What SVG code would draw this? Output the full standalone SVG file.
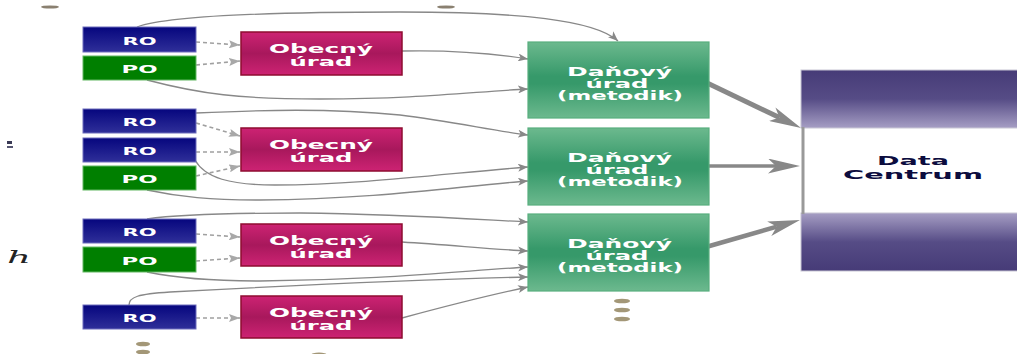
<svg xmlns="http://www.w3.org/2000/svg" width="1017" height="354" viewBox="0 0 1017 354">
<defs>
<linearGradient id="gRO" x1="0" y1="0" x2="0" y2="1"><stop offset="0" stop-color="#06067e"/><stop offset="1" stop-color="#2f2f99"/></linearGradient>
<linearGradient id="gOb" x1="0" y1="0" x2="0" y2="1"><stop offset="0" stop-color="#cd2373"/><stop offset="0.5" stop-color="#a8185c"/><stop offset="1" stop-color="#cd2373"/></linearGradient>
<linearGradient id="gDan" x1="0" y1="0" x2="0" y2="1"><stop offset="0" stop-color="#6cb98e"/><stop offset="0.45" stop-color="#36996a"/><stop offset="0.55" stop-color="#36996a"/><stop offset="1" stop-color="#6cb98e"/></linearGradient>
<linearGradient id="gDcT" x1="0" y1="0" x2="0" y2="1"><stop offset="0" stop-color="#463b77"/><stop offset="0.5" stop-color="#564c86"/><stop offset="1" stop-color="#a69ec4"/></linearGradient>
<linearGradient id="gDcB" x1="0" y1="0" x2="0" y2="1"><stop offset="0" stop-color="#a69ec4"/><stop offset="0.5" stop-color="#564c86"/><stop offset="1" stop-color="#463b77"/></linearGradient>
<marker id="aThin" markerUnits="userSpaceOnUse" viewBox="0 0 10 8" refX="10" refY="4" markerWidth="10" markerHeight="8" orient="auto"><path d="M0,0 L10,4 L0,8 L2.5,4 z" fill="#888"/></marker>
<marker id="aDash" markerUnits="userSpaceOnUse" viewBox="0 0 11 8" refX="11" refY="4" markerWidth="11" markerHeight="8" orient="auto"><path d="M0,0 L11,4 L0,8 L2,4 z" fill="#a8a8a8"/></marker>
<marker id="aThick" markerUnits="userSpaceOnUse" viewBox="0 0 32 15" refX="8" refY="7.5" markerWidth="32" markerHeight="15" orient="auto"><path d="M0,0 L32,7.5 L0,15 L8,7.5 z" fill="#888"/></marker>
<style>
.ro{fill:url(#gRO);stroke:#6c6cbc;stroke-width:1}
.po{fill:#007f00;stroke:#62b862;stroke-width:1}
.ob{fill:url(#gOb);stroke:#8e0c30;stroke-width:1.5}
.dan{fill:url(#gDan);stroke:#58ae7e;stroke-width:1.2}
.t{fill:#fff;font-family:"DejaVu Sans","Liberation Sans",sans-serif;font-weight:bold;text-anchor:middle}
.dct{fill:#0c0c3e;font-family:"DejaVu Sans","Liberation Sans",sans-serif;font-weight:bold;text-anchor:middle;font-size:13px}
.thin{fill:none;stroke:#888;stroke-width:1.3;marker-end:url(#aThin)}
.dash{fill:none;stroke:#a0a0a0;stroke-width:1.6;stroke-dasharray:4 3;marker-end:url(#aDash)}
.thick{fill:none;stroke:#888;marker-end:url(#aThick)}
.dot{fill:#a39777}
</style>
</defs>
<rect width="1017" height="354" fill="#fff"/>

<g id="decor">
<ellipse cx="50" cy="7" rx="9" ry="1.6" fill="#8a8070"/>
<ellipse cx="446" cy="7" rx="9" ry="1.6" fill="#8a8070"/>
<rect x="7" y="141" width="5" height="3" fill="#3a3a55"/>
<rect x="7" y="146" width="6" height="2" fill="#555570"/>
<text x="7" y="263" font-family="DejaVu Serif,serif" font-style="italic" font-size="16" fill="#222" textLength="24" lengthAdjust="spacingAndGlyphs">h</text>
<ellipse class="dot" cx="622" cy="301" rx="8" ry="2.3"/>
<ellipse class="dot" cx="622" cy="310" rx="8" ry="2.3"/>
<ellipse class="dot" cx="622" cy="319" rx="8" ry="2.3"/>
<ellipse class="dot" cx="143" cy="344" rx="7" ry="2.3"/>
<ellipse class="dot" cx="143" cy="352" rx="7" ry="2.3"/>
<ellipse class="dot" cx="319" cy="355" rx="8" ry="2.5"/>
</g>

<g id="connectors">
<path class="dash" d="M196,42 L240,45"/>
<path class="dash" d="M196,65 L240,61"/>
<path class="dash" d="M196,123 L240,136"/>
<path class="dash" d="M196,152 L240,152"/>
<path class="dash" d="M196,176 L240,166"/>
<path class="dash" d="M196,234 L240,237"/>
<path class="dash" d="M196,261 L240,258"/>
<path class="dash" d="M196,318 L240,318"/>

<path class="thin" d="M137,27 C170,15 280,12 400,12 C520,12 595,20 618,41"/>
<path class="thin" d="M402,51 C450,50 485,52 528,59"/>
<path class="thin" d="M147,80 C200,94 240,99 320,99 C420,99 470,92 528,89"/>
<path class="thin" d="M196,113 C260,110 330,108 400,115 C450,121 490,130 528,135"/>
<path class="thin" d="M195,160 C205,178 230,185 275,185 C360,185 450,173 528,167"/>
<path class="thin" d="M147,190 C180,197 210,200 260,200 C380,199 460,186 528,181"/>
<path class="thin" d="M147,219 C180,214 250,213 300,213 C400,214 470,219 528,222"/>
<path class="thin" d="M402,242 C450,245 490,249 528,251"/>
<path class="thin" d="M147,272 C180,279 215,281 260,281 C380,280 460,271 528,267"/>
<path class="thin" d="M129,305 C129,297 138,294 170,292 C300,285 440,279 528,277"/>
<path class="thin" d="M402,318 C450,305 490,295 528,287"/>

<path class="thick" stroke-width="5" d="M703,81 L779.4,117.6"/>
<path class="thick" stroke-width="3.5" d="M706,166 L776,166"/>
<path class="thick" stroke-width="4.5" d="M706,247 L776.9,226.6"/>
</g>

<g id="ro1"><rect class="ro" x="83" y="27" width="113" height="25"/><text class="t" x="139.5" y="44.5" font-size="11" textLength="34" lengthAdjust="spacingAndGlyphs">RO</text></g>
<g id="po1"><rect class="po" x="83" y="56" width="113" height="24"/><text class="t" x="139.5" y="73" font-size="11" textLength="36" lengthAdjust="spacingAndGlyphs">PO</text></g>
<g id="ob1"><rect class="ob" x="241" y="32" width="161" height="43"/><text class="t" x="321" y="53" font-size="12" textLength="104" lengthAdjust="spacingAndGlyphs">Obecný</text><text class="t" x="321" y="66" font-size="12" textLength="63" lengthAdjust="spacingAndGlyphs">úrad</text></g>

<g id="ro2"><rect class="ro" x="83" y="109" width="113" height="24"/><text class="t" x="139.5" y="126" font-size="11" textLength="34" lengthAdjust="spacingAndGlyphs">RO</text></g>
<g id="ro3"><rect class="ro" x="83" y="138" width="113" height="24"/><text class="t" x="139.5" y="155" font-size="11" textLength="34" lengthAdjust="spacingAndGlyphs">RO</text></g>
<g id="po2"><rect class="po" x="83" y="166" width="113" height="24"/><text class="t" x="139.5" y="183" font-size="11" textLength="36" lengthAdjust="spacingAndGlyphs">PO</text></g>
<g id="ob2"><rect class="ob" x="241" y="128" width="161" height="43"/><text class="t" x="321" y="149" font-size="12" textLength="104" lengthAdjust="spacingAndGlyphs">Obecný</text><text class="t" x="321" y="162" font-size="12" textLength="63" lengthAdjust="spacingAndGlyphs">úrad</text></g>

<g id="ro4"><rect class="ro" x="83" y="219" width="113" height="24"/><text class="t" x="139.5" y="236" font-size="11" textLength="34" lengthAdjust="spacingAndGlyphs">RO</text></g>
<g id="po3"><rect class="po" x="83" y="247" width="113" height="25"/><text class="t" x="139.5" y="264.5" font-size="11" textLength="36" lengthAdjust="spacingAndGlyphs">PO</text></g>
<g id="ob3"><rect class="ob" x="241" y="224" width="161" height="42"/><text class="t" x="321" y="245" font-size="12" textLength="104" lengthAdjust="spacingAndGlyphs">Obecný</text><text class="t" x="321" y="258" font-size="12" textLength="63" lengthAdjust="spacingAndGlyphs">úrad</text></g>

<g id="ro5"><rect class="ro" x="83" y="305" width="113" height="24"/><text class="t" x="139.5" y="322" font-size="11" textLength="34" lengthAdjust="spacingAndGlyphs">RO</text></g>
<g id="ob4"><rect class="ob" x="241" y="296" width="161" height="42"/><text class="t" x="321" y="317" font-size="12" textLength="104" lengthAdjust="spacingAndGlyphs">Obecný</text><text class="t" x="321" y="330" font-size="12" textLength="63" lengthAdjust="spacingAndGlyphs">úrad</text></g>

<g id="dan1"><rect class="dan" x="528" y="42" width="181" height="76"/><text class="t" x="619.5" y="76" font-size="11.5" textLength="105" lengthAdjust="spacingAndGlyphs">Daňový</text><text class="t" x="617" y="88" font-size="11.5" textLength="63" lengthAdjust="spacingAndGlyphs">úrad</text><text class="t" x="620" y="100" font-size="11.5" textLength="126" lengthAdjust="spacingAndGlyphs">(metodik)</text></g>
<g id="dan2"><rect class="dan" x="528" y="128" width="181" height="77"/><text class="t" x="619.5" y="162" font-size="11.5" textLength="105" lengthAdjust="spacingAndGlyphs">Daňový</text><text class="t" x="617" y="174" font-size="11.5" textLength="63" lengthAdjust="spacingAndGlyphs">úrad</text><text class="t" x="620" y="186" font-size="11.5" textLength="126" lengthAdjust="spacingAndGlyphs">(metodik)</text></g>
<g id="dan3"><rect class="dan" x="528" y="214" width="181" height="77"/><text class="t" x="619.5" y="248" font-size="11.5" textLength="105" lengthAdjust="spacingAndGlyphs">Daňový</text><text class="t" x="617" y="260" font-size="11.5" textLength="63" lengthAdjust="spacingAndGlyphs">úrad</text><text class="t" x="620" y="272" font-size="11.5" textLength="126" lengthAdjust="spacingAndGlyphs">(metodik)</text></g>

<g id="datacentrum">
<rect x="801" y="70" width="220" height="58" fill="url(#gDcT)" stroke="#c8c6d4" stroke-width="1"/>
<rect x="801" y="213" width="220" height="58" fill="url(#gDcB)" stroke="#c8c6d4" stroke-width="1"/>
<line x1="803" y1="127" x2="803" y2="214" stroke="#999" stroke-width="3"/>
<text class="dct" x="913" y="165" textLength="72" lengthAdjust="spacingAndGlyphs">Data</text>
<text class="dct" x="913" y="179" textLength="140" lengthAdjust="spacingAndGlyphs">Centrum</text>
</g>
</svg>
